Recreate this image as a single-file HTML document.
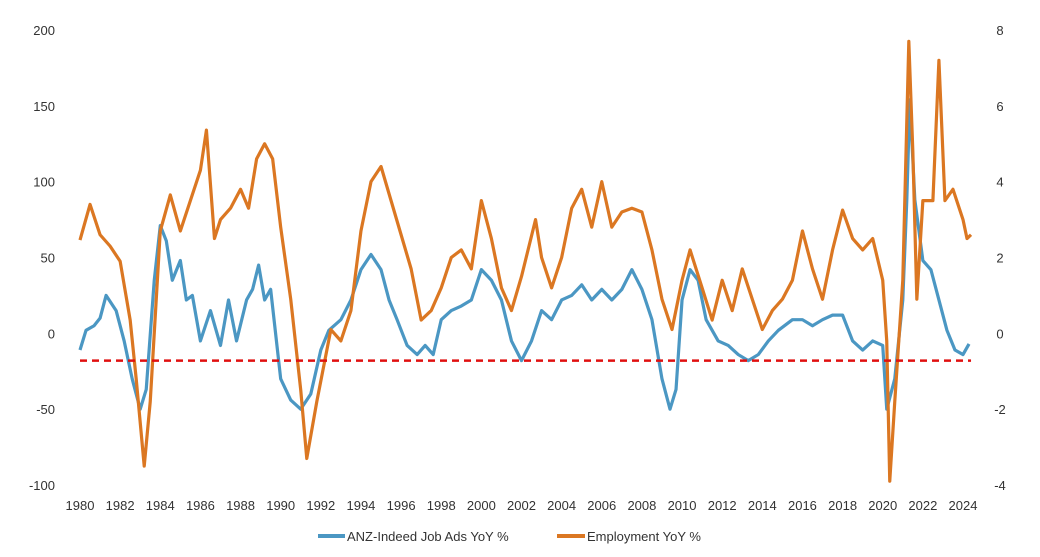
<!DOCTYPE html>
<html><head><meta charset="utf-8"><style>
body{margin:0;background:#fff;}
svg{display:block;font-family:"Liberation Sans",sans-serif;}
text{fill:#333;font-size:13px;}
</style></head><body>
<svg id="chart" width="1040" height="557"></svg>
<script>
const blueT=[1980,1980.3,1980.7,1981,1981.3,1981.8,1982.2,1982.6,1983,1983.3,1983.7,1984,1984.3,1984.6,1985,1985.3,1985.6,1986,1986.5,1987,1987.4,1987.8,1988.3,1988.6,1988.9,1989.2,1989.5,1990,1990.5,1991,1991.5,1992,1992.4,1993,1993.5,1994,1994.5,1995,1995.4,1995.8,1996.3,1996.8,1997.2,1997.6,1998,1998.5,1999,1999.5,2000,2000.5,2001,2001.5,2002,2002.5,2003,2003.5,2004,2004.5,2005,2005.5,2006,2006.5,2007,2007.5,2008,2008.5,2009,2009.4,2009.7,2010,2010.4,2010.8,2011.2,2011.8,2012.3,2012.8,2013.3,2013.8,2014.3,2014.8,2015.5,2016,2016.5,2017,2017.5,2018,2018.5,2019,2019.5,2020,2020.2,2020.6,2021,2021.2,2021.35,2021.6,2022,2022.4,2022.8,2023.2,2023.6,2024,2024.3];
const blueV=[-11,2,5,10,25,15,-5,-30,-50,-37,35,71,61,35,48,22,25,-5,15,-8,22,-5,22,29,45,22,29,-30,-44,-50,-40,-11,2,9,22,42,52,42,22,9,-8,-14,-8,-14,9,15,18,22,42,35,22,-5,-18,-5,15,9,22,25,32,22,29,22,29,42,29,9,-30,-50,-37,22,42,35,9,-5,-8,-14,-18,-14,-5,2,9,9,5,9,12,12,-5,-11,-5,-8,-50,-30,22,88,154,88,48,42,22,2,-11,-14,-7];
const orangeT=[1980,1980.5,1981,1981.5,1982,1982.5,1982.8,1983.2,1983.5,1984,1984.5,1985,1985.5,1986,1986.3,1986.7,1987,1987.5,1988,1988.4,1988.8,1989.2,1989.6,1990,1990.5,1991,1991.3,1991.8,1992.5,1993,1993.5,1994,1994.5,1995,1995.5,1996,1996.5,1997,1997.5,1998,1998.5,1999,1999.5,2000,2000.5,2001,2001.5,2002,2002.7,2003,2003.5,2004,2004.5,2005,2005.5,2006,2006.5,2007,2007.5,2008,2008.5,2009,2009.5,2010,2010.4,2011,2011.5,2012,2012.5,2013,2013.5,2014,2014.5,2015,2015.5,2016,2016.5,2017,2017.5,2018,2018.5,2019,2019.5,2020,2020.2,2020.35,2020.6,2021,2021.3,2021.5,2021.7,2022,2022.5,2022.8,2023.1,2023.5,2024,2024.2,2024.4];
const orangeV=[2.46,3.4,2.6,2.3,1.9,0.35,-1.2,-3.5,-1.8,2.7,3.65,2.7,3.5,4.3,5.36,2.5,3.0,3.3,3.8,3.3,4.6,5.0,4.6,2.8,0.9,-1.5,-3.3,-1.8,0.1,-0.2,0.6,2.7,4.0,4.4,3.5,2.6,1.7,0.35,0.6,1.2,2.0,2.2,1.7,3.5,2.5,1.2,0.6,1.5,3.0,2.0,1.2,2.0,3.3,3.8,2.8,4.0,2.8,3.2,3.3,3.2,2.2,0.9,0.1,1.4,2.2,1.2,0.35,1.4,0.6,1.7,0.9,0.1,0.6,0.9,1.4,2.7,1.7,0.9,2.2,3.25,2.5,2.2,2.5,1.4,-0.2,-3.9,-1.8,1.4,7.7,4.8,0.9,3.5,3.5,7.2,3.5,3.8,3.0,2.5,2.6];
const leftTicks=[200,150,100,50,0,-50,-100];
const rightTicks=[8,6,4,2,0,-2,-4];
const yearTicks=[1980,1982,1984,1986,1988,1990,1992,1994,1996,1998,2000,2002,2004,2006,2008,2010,2012,2014,2016,2018,2020,2022,2024];
const threshold=-18;

const NS='http://www.w3.org/2000/svg';
const svg=document.getElementById('chart');
const x=t=>80+(t-1980)*(963-80)/44;
const yL=v=>30+(200-v)*455/300;
const yR=v=>30+(8-v)*455/12;
function mk(tag,a,parent){const e=document.createElementNS(NS,tag);for(const k in a)e.setAttribute(k,a[k]);(parent||svg).appendChild(e);return e;}
leftTicks.forEach(v=>{const t=mk('text',{x:55,y:yL(v)+5,'text-anchor':'end'});t.textContent=v;

});
rightTicks.forEach(v=>{const t=mk('text',{x:1000,y:yR(v)+5,'text-anchor':'middle'});t.textContent=v;

});
yearTicks.forEach(v=>{const t=mk('text',{x:x(v),y:510,'text-anchor':'middle'});t.textContent=v;

});
const cp=mk('clipPath',{id:'cp'});mk('rect',{x:60,y:30,width:920,height:455},cp);
const g=mk('g',{'clip-path':'url(#cp)'});


const b=mk('polyline',{points:blueT.map((t,i)=>x(t)+','+yL(blueV[i])).join(' '),fill:'none',stroke:'#4b97c3','stroke-width':3.2,'stroke-linejoin':'round'},g);


const o=mk('polyline',{points:orangeT.map((t,i)=>x(t)+','+yR(orangeV[i])).join(' '),fill:'none',stroke:'#db7722','stroke-width':3.2,'stroke-linejoin':'round'},g);


const d=mk('line',{x1:x(1980),x2:x(2024.4),y1:yL(threshold),y2:yL(threshold),stroke:'#e01010','stroke-width':2.5,'stroke-dasharray':'7,5'},g);


const l1=mk('line',{x1:318,x2:345,y1:536,y2:536,stroke:'#4b97c3','stroke-width':4});


const t1=mk('text',{x:347,y:541});t1.textContent='ANZ-Indeed Job Ads YoY %';


const l2=mk('line',{x1:557,x2:585,y1:536,y2:536,stroke:'#db7722','stroke-width':4});


const t2=mk('text',{x:587,y:541});t2.textContent='Employment YoY %';


</script>
</body></html>
